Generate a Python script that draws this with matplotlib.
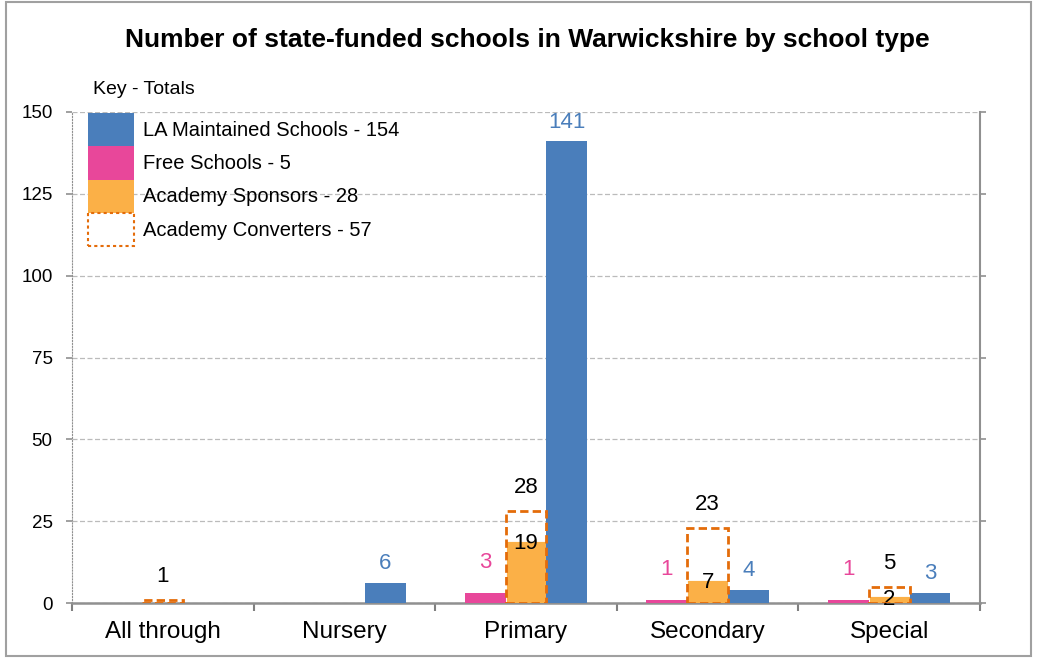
import matplotlib
matplotlib.use("Agg")
import matplotlib.pyplot as plt
from matplotlib.patches import Patch, Rectangle
import numpy as np

categories = ['All through', 'Nursery', 'Primary', 'Secondary', 'Special']
free_schools = [0, 0, 3, 1, 1]
academy_sponsors = [0, 0, 19, 7, 2]
academy_converters = [1, 0, 28, 23, 5]
la_maintained = [0, 6, 141, 4, 3]
legend_labels = ['LA Maintained Schools - 154', 'Free Schools - 5',
                 'Academy Sponsors - 28', 'Academy Converters - 57']
yticks = [0, 25, 50, 75, 100, 125, 150]

BLUE = '#4A7EBB'
PINK = '#E8479A'
ORANGE = '#FBB047'
DORANGE = '#E46C0A'

plt.rcParams['font.family'] = ['Liberation Sans', 'DejaVu Sans']

fig = plt.figure(figsize=(10.37, 6.59), dpi=100)
fig.patch.set_facecolor('white')
fig.add_artist(Rectangle((6/1037, 3/659), 1025/1037, 654/659, transform=fig.transFigure,
                         fill=False, edgecolor='#A0A0A0', linewidth=1.5))

ax = fig.add_axes([72/1037, 1-603/659, (980-72)/1037, (603-112)/659])
x = np.arange(len(categories))
w = 0.225

def nz(vals):
    idx = [i for i, v in enumerate(vals) if v]
    return np.array(idx), [vals[i] for i in idx]

xi, v = nz(free_schools)
ax.bar(xi - w, v, w, color=PINK, zorder=3)
xi, v = nz(academy_sponsors)
ax.bar(xi, v, w, color=ORANGE, edgecolor='white', linewidth=0.6, zorder=3)
xi, v = nz(academy_converters)
ax.bar(xi, v, w, fill=False, edgecolor=DORANGE, linestyle=(0, (3, 1.5)),
       linewidth=2, zorder=4)
xi, v = nz(la_maintained)
ax.bar(xi + w, v, w, color=BLUE, zorder=3)

fs = 16
for i in range(len(categories)):
    if free_schools[i]:
        ax.annotate(str(free_schools[i]), (x[i] - w, free_schools[i]), xytext=(0, 22),
                    textcoords='offset points', ha='center', va='center', color=PINK, fontsize=fs)
    if la_maintained[i]:
        ax.annotate(str(la_maintained[i]), (x[i] + w, la_maintained[i]), xytext=(0, 14),
                    textcoords='offset points', ha='center', va='center', color=BLUE, fontsize=fs)
    if academy_sponsors[i]:
        ax.annotate(str(academy_sponsors[i]), (x[i], academy_sponsors[i]), xytext=(0, -2),
                    textcoords='offset points', ha='center', va='center', color='black', fontsize=fs)
    if academy_converters[i]:
        ax.annotate(str(academy_converters[i]), (x[i], academy_converters[i]), xytext=(0, 17),
                    textcoords='offset points', ha='center', va='center', color='black', fontsize=fs)

ax.set_xlim(-0.5, len(categories) - 0.5)
ax.set_ylim(0, 150)
ax.set_yticks(yticks)
ax.set_yticklabels([str(t) for t in yticks], fontsize=13.5)
ax.set_xticks(x)
ax.set_xticklabels(categories, fontsize=17.5)
ax.tick_params(axis='x', length=0, pad=13)
ax.set_xticks(np.arange(len(categories) + 1) - 0.5, minor=True)
ax.tick_params(axis='x', which='minor', length=6, color='#808080', width=1.5)
ax.tick_params(axis='y', length=4, color='#909090', width=1.2, left=True, right=True,
               direction='out', pad=10)

ax.yaxis.grid(True, linestyle=(0, (4, 2)), color='#BBBBBB', linewidth=0.9, zorder=0)
ax.set_axisbelow(True)

ax.spines['top'].set_visible(False)
ax.spines['left'].set_linestyle(':')
ax.spines['left'].set_color('#909090')
ax.spines['right'].set_color('#909090')
ax.spines['right'].set_linewidth(1.5)
ax.spines['bottom'].set_color('#909090')
ax.spines['bottom'].set_linewidth(1.8)

fig.text(527/1037, 1-40/659, 'Number of state-funded schools in Warwickshire by school type',
         ha='center', va='center', fontsize=19, fontweight='bold')

fig.text(93/1037, 1-90/659, 'Key - Totals', ha='left', va='center', fontsize=14)

handles = [Patch(facecolor=BLUE), Patch(facecolor=PINK), Patch(facecolor=ORANGE),
           Patch(facecolor='white', edgecolor=DORANGE, linestyle=(0, (1.5, 1.5)), linewidth=1.5)]
leg = fig.legend(handles, legend_labels, loc='upper left',
                 bbox_to_anchor=(74/1037, 1-99/659), frameon=False, fontsize=14.5,
                 handlelength=2.3, handleheight=2.16, labelspacing=0.0,
                 handletextpad=0.45, borderpad=0.2)

fig.savefig('out.png', dpi=100)
